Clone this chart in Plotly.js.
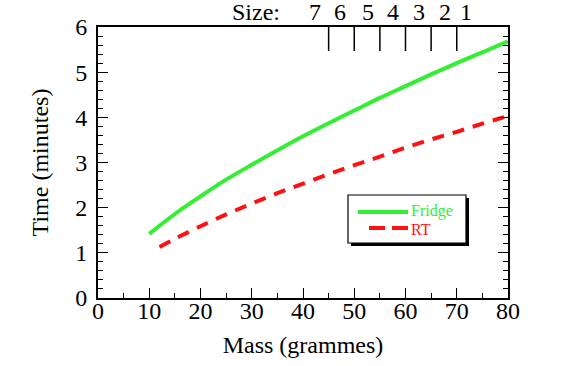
<!DOCTYPE html>
<html>
<head>
<meta charset="utf-8">
<script src="https://cdn.plot.ly/plotly-3.0.1.min.js"></script>
<style>html,body{margin:0;padding:0;background:#fff;}#chart{width:588px;height:366px;}</style>
</head>
<body>
<div id="chart"></div>
<script>
// Data
var fridgeMass = [10, 15, 20, 25, 30, 35, 40, 45, 50, 55, 60, 65, 70, 75, 80];
var fridgeTime = [1.42, 1.86, 2.25, 2.62, 2.95, 3.27, 3.58, 3.87, 4.15, 4.43, 4.69, 4.95, 5.20, 5.44, 5.68];
var rtMass = [12, 15, 20, 25, 30, 35, 40, 45, 50, 55, 60, 65, 70, 75, 80];
var rtTime = [1.13, 1.31, 1.59, 1.85, 2.09, 2.32, 2.53, 2.74, 2.94, 3.13, 3.33, 3.51, 3.68, 3.86, 4.03];
var sizeTicks = [45, 50, 55, 60, 65, 70];
var sizeLabels = ['7', '6', '5', '4', '3', '2', '1'];
var sizeLabelX = [42.3, 47.3, 52.6, 57.5, 62.6, 67.7, 71.9];
var seriesNames = ['Fridge', 'RT'];

var GREEN = '#33ee33';
var RED = '#ff1111';
var FONT = 'Liberation Serif';

// plot-area geometry (pixels) used to place the hand-made legend
var ML = 98, MR = 80, MT = 27, MB = 68, W = 588, H = 366;
var PW = W - ML - MR, PH = H - MT - MB;
function px(x) { return (x - ML) / PW; }
function py(y) { return (H - MB - y) / PH; }

var traces = [
  {x: fridgeMass, y: fridgeTime, mode: 'lines', type: 'scatter', name: seriesNames[0],
   line: {color: GREEN, width: 4, shape: 'spline'}},
  {x: rtMass, y: rtTime, mode: 'lines', type: 'scatter', name: seriesNames[1],
   line: {color: RED, width: 4, dash: '12px,9px', shape: 'spline'}}
];

var annotations = sizeLabels.map(function (t, i) {
  return {x: sizeLabelX[i], xref: 'x', y: py(12), yref: 'paper', text: t, showarrow: false,
          xanchor: 'center', yanchor: 'middle', font: {family: FONT, size: 24, color: '#000'}};
});
annotations.push({x: 30.8, xref: 'x', y: py(12), yref: 'paper', text: 'Size:', showarrow: false,
  xanchor: 'center', yanchor: 'middle', font: {family: FONT, size: 24, color: '#000'}});
// legend labels
annotations.push({x: px(410), y: py(211), xref: 'paper', yref: 'paper', text: seriesNames[0],
  showarrow: false, xanchor: 'left', yanchor: 'middle', borderpad: 0,
  font: {family: FONT, size: 16, color: GREEN}});
annotations.push({x: px(410), y: py(229), xref: 'paper', yref: 'paper', text: seriesNames[1],
  showarrow: false, xanchor: 'left', yanchor: 'middle', borderpad: 0,
  font: {family: FONT, size: 16, color: RED}});

var shapes = [];
// size ticks along the top edge
sizeTicks.forEach(function (t) {
  shapes.push({type: 'line', xref: 'x', yref: 'paper', x0: t, x1: t, y0: 1, y1: py(MT + 24),
               line: {color: '#000', width: 1.5}});
});
// legend shadow, box and samples
shapes.push({type: 'rect', xref: 'paper', yref: 'paper', x0: px(351), x1: px(469), y0: py(246), y1: py(198),
             fillcolor: '#000', line: {width: 0}, layer: 'above'});
shapes.push({type: 'rect', xref: 'paper', yref: 'paper', x0: px(348), x1: px(466), y0: py(243), y1: py(195),
             fillcolor: '#fff', line: {color: '#000', width: 1.2}, layer: 'above'});
shapes.push({type: 'line', xref: 'paper', yref: 'paper', x0: px(358), x1: px(408), y0: py(212), y1: py(212),
             line: {color: GREEN, width: 4}, layer: 'above'});
shapes.push({type: 'line', xref: 'paper', yref: 'paper', x0: px(369), x1: px(408), y0: py(228), y1: py(228),
             line: {color: RED, width: 4, dash: '16px,7px'}, layer: 'above'});

var layout = {
  width: W, height: H,
  margin: {l: ML, r: MR, t: MT, b: MB, pad: 0},
  paper_bgcolor: '#fff', plot_bgcolor: '#fff',
  font: {family: FONT, size: 24, color: '#000'},
  showlegend: false,
  xaxis: {range: [0, 80], dtick: 10, tick0: 0, ticks: 'inside', ticklen: 10, tickwidth: 1,
          tickcolor: '#000', showline: true, linecolor: '#000', linewidth: 2, mirror: true,
          showgrid: false, zeroline: false, tickfont: {size: 24}, ticklabelstandoff: -10,
          minor: {dtick: 5, ticks: 'inside', ticklen: 5, tickwidth: 1, tickcolor: '#000', showgrid: false},
          title: {text: 'Mass (grammes)', font: {size: 24}, standoff: 13}},
  yaxis: {range: [0, 6], dtick: 1, tick0: 0, ticks: 'inside', ticklen: 10, tickwidth: 1,
          tickcolor: '#000', showline: true, linecolor: '#000', linewidth: 2, mirror: 'ticks',
          showgrid: false, zeroline: false, tickfont: {size: 24}, ticklabelstandoff: 4,
          minor: {dtick: 0.2, ticks: 'inside', ticklen: 5, tickwidth: 1, tickcolor: '#000', showgrid: false},
          title: {text: 'Time (minutes)', font: {size: 24}, standoff: 20}},
  shapes: shapes,
  annotations: annotations
};

Plotly.newPlot('chart', traces, layout, {displayModeBar: false, staticPlot: true});
</script>
</body>
</html>
